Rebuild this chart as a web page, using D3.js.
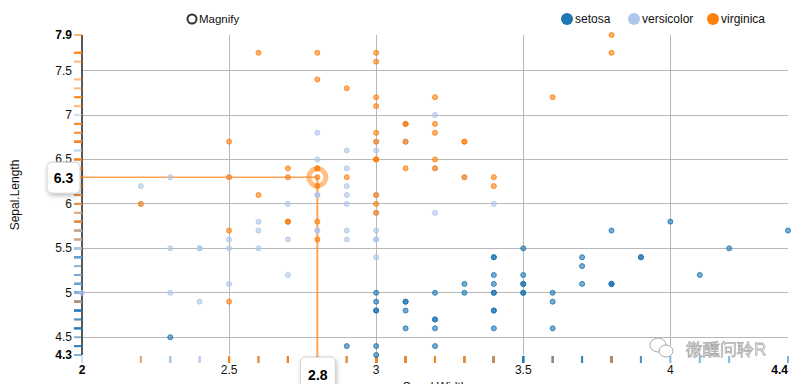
<!DOCTYPE html>
<html>
<head>
<meta charset="utf-8">
<script src="https://cdn.jsdelivr.net/npm/d3@7"></script>
<style>
body { margin: 0; background: #fff; }
text { font-family: "Liberation Sans", Arial, sans-serif; }
</style>
</head>
<body>
<script>
// iris: Sepal.Width / Sepal.Length, 50 rows per species
var species = ["setosa", "versicolor", "virginica"];
var colors = ["#1f77b4", "#aec7e8", "#ff7f0e"];

var setosaWidth = [3.5,3.0,3.2,3.1,3.6,3.9,3.4,3.4,2.9,3.1,3.7,3.4,3.0,3.0,4.0,4.4,3.9,3.5,3.8,3.8,3.4,3.7,3.6,3.3,3.4,3.0,3.4,3.5,3.4,3.2,3.1,3.4,4.1,4.2,3.1,3.2,3.5,3.6,3.0,3.4,3.5,2.3,3.2,3.5,3.8,3.0,3.8,3.2,3.7,3.3];
var setosaLength = [5.1,4.9,4.7,4.6,5.0,5.4,4.6,5.0,4.4,4.9,5.4,4.8,4.8,4.3,5.8,5.7,5.4,5.1,5.7,5.1,5.4,5.1,4.6,5.1,4.8,5.0,5.0,5.2,5.2,4.7,4.8,5.4,5.2,5.5,4.9,5.0,5.5,4.9,4.4,5.1,5.0,4.5,4.4,5.0,5.1,4.8,5.1,4.6,5.3,5.0];
var versicolorWidth = [3.2,3.2,3.1,2.3,2.8,2.8,3.3,2.4,2.9,2.7,2.0,3.0,2.2,2.9,2.9,3.1,3.0,2.7,2.2,2.5,3.2,2.8,2.5,2.8,2.9,3.0,2.8,3.0,2.9,2.6,2.4,2.4,2.7,2.7,3.0,3.4,3.1,2.3,3.0,2.5,2.6,3.0,2.6,2.3,2.7,3.0,2.9,2.9,2.5,2.8];
var versicolorLength = [7.0,6.4,6.9,5.5,6.5,5.7,6.3,4.9,6.6,5.2,5.0,5.9,6.0,6.1,5.6,6.7,5.6,5.8,6.2,5.6,5.9,6.1,6.3,6.1,6.4,6.6,6.8,6.7,6.0,5.7,5.5,5.5,5.8,6.0,5.4,6.0,6.7,6.3,5.6,5.5,5.5,6.1,5.8,5.0,5.6,5.7,5.7,6.2,5.1,5.7];
var virginicaWidth = [3.3,2.7,3.0,2.9,3.0,3.0,2.5,2.9,2.5,3.6,3.2,2.7,3.0,2.5,2.8,3.2,3.0,3.8,2.6,2.2,3.2,2.8,2.8,2.7,3.3,3.2,2.8,3.0,2.8,3.0,2.8,3.8,2.8,2.8,2.6,3.0,3.4,3.1,3.0,3.1,3.1,3.1,2.7,3.2,3.3,3.0,2.5,3.0,3.4,3.0];
var virginicaLength = [6.3,5.8,7.1,6.3,6.5,7.6,4.9,7.3,6.7,7.2,6.5,6.4,6.8,5.7,5.8,6.4,6.5,7.7,7.7,6.0,6.9,5.6,7.7,6.3,6.7,7.2,6.2,6.1,6.4,7.2,7.4,7.9,6.4,6.3,6.1,7.7,6.3,6.4,6.0,6.9,6.7,6.9,5.8,6.8,6.7,6.7,6.3,6.5,6.2,5.9];

var xTicks = [2.5, 3, 3.5, 4];
var yTicks = [4.5, 5, 5.5, 6, 6.5, 7, 7.5];
var xExtent = [2, 4.4];
var yExtent = [4.3, 7.9];
var hover = {width: 2.8, length: 6.3, species: "virginica"};

var widths = [setosaWidth, versicolorWidth, virginicaWidth];
var lengths = [setosaLength, versicolorLength, virginicaLength];
var data = [];
species.forEach(function(s, i) {
  widths[i].forEach(function(w, j) {
    data.push({species: s, width: w, length: lengths[i][j], color: colors[i]});
  });
});

var W = 798, H = 384;
var svg = d3.select("body").append("svg").attr("width", W).attr("height", H);

var defs = svg.append("defs");
var f = defs.append("filter").attr("id", "shadow").attr("x", "-30%").attr("y", "-30%").attr("width", "160%").attr("height", "160%");
f.append("feDropShadow").attr("dx", 1).attr("dy", 2).attr("stdDeviation", 2).attr("flood-color", "#000").attr("flood-opacity", 0.25);

var x = d3.scaleLinear().domain(xExtent).range([82, 788]);
var y = d3.scaleLinear().domain(yExtent).range([355, 35]);

// grid
svg.append("g").selectAll("line").data(yTicks).enter().append("line")
   .attr("x1", x(xExtent[0])).attr("x2", x(xExtent[1]))
   .attr("y1", function(d){return y(d);}).attr("y2", function(d){return y(d);})
   .attr("stroke", "#b8b8b8").attr("stroke-width", 1).attr("shape-rendering", "crispEdges");
svg.append("g").selectAll("line").data(xTicks).enter().append("line")
   .attr("x1", function(d){return x(d);}).attr("x2", function(d){return x(d);})
   .attr("y1", y(yExtent[1])).attr("y2", y(yExtent[0]))
   .attr("stroke", "#b8b8b8").attr("stroke-width", 1).attr("shape-rendering", "crispEdges");

// y axis line
svg.append("line").attr("x1", x(xExtent[0])).attr("x2", x(xExtent[0]))
   .attr("y1", y(yExtent[1])).attr("y2", y(yExtent[0]))
   .attr("stroke", "#222").attr("stroke-width", 1.5);

// rugs
svg.append("g").selectAll("line").data(data).enter().append("line")
   .attr("x1", x(xExtent[0]) - 8).attr("x2", x(xExtent[0]))
   .attr("y1", function(d){return y(d.length);}).attr("y2", function(d){return y(d.length);})
   .attr("stroke", function(d){return d.color;}).attr("stroke-width", 2).attr("opacity", 0.55);
svg.append("g").selectAll("line").data(data).enter().append("line")
   .attr("x1", function(d){return x(d.width);}).attr("x2", function(d){return x(d.width);})
   .attr("y1", y(yExtent[0]) + 1).attr("y2", y(yExtent[0]) + 8)
   .attr("stroke", function(d){return d.color;}).attr("stroke-width", 2).attr("opacity", 0.55);

// drop lines for the hovered point
var hc = colors[species.indexOf(hover.species)];
svg.append("line").attr("x1", x(xExtent[0])).attr("x2", x(hover.width))
   .attr("y1", y(hover.length)).attr("y2", y(hover.length))
   .attr("stroke", hc).attr("stroke-width", 1.5).attr("opacity", 0.7);
svg.append("line").attr("x1", x(hover.width)).attr("x2", x(hover.width))
   .attr("y1", y(hover.length)).attr("y2", y(yExtent[0]) + 2)
   .attr("stroke", hc).attr("stroke-width", 2).attr("opacity", 0.7);

// points
svg.append("g").selectAll("circle").data(data).enter().append("circle")
   .attr("cx", function(d){return x(d.width);})
   .attr("cy", function(d){return y(d.length);})
   .attr("r", 2.5)
   .attr("fill", function(d){return d.color;}).attr("fill-opacity", 0.6)
   .attr("stroke", function(d){return d.color;}).attr("stroke-opacity", 0.85).attr("stroke-width", 1);

// hover ring
svg.append("circle").attr("cx", x(hover.width)).attr("cy", y(hover.length)).attr("r", 8.5)
   .attr("fill", "none").attr("stroke", hc).attr("stroke-width", 5).attr("opacity", 0.5);

// y tick labels
svg.append("g").selectAll("text").data(yTicks).enter().append("text")
   .attr("x", 72).attr("y", function(d){return y(d) + 4;})
   .attr("text-anchor", "end").attr("font-size", 12).attr("fill", "#111")
   .text(function(d){return d;});
svg.append("g").selectAll("text").data(yExtent).enter().append("text")
   .attr("x", 72).attr("y", function(d){return y(d) + 4;})
   .attr("text-anchor", "end").attr("font-size", 12).attr("font-weight", "bold").attr("fill", "#000")
   .text(function(d){return d;});

// x tick labels
svg.append("g").selectAll("text").data(xTicks).enter().append("text")
   .attr("x", function(d){return x(d);}).attr("y", 374)
   .attr("text-anchor", "middle").attr("font-size", 12).attr("fill", "#111")
   .text(function(d){return d;});
svg.append("g").selectAll("text").data(xExtent).enter().append("text")
   .attr("x", function(d){return x(d);}).attr("y", 374)
   .attr("text-anchor", function(d, i){return i ? "end" : "middle";})
   .attr("font-size", 12).attr("font-weight", "bold").attr("fill", "#000")
   .text(function(d){return d;});

// axis titles
svg.append("text").attr("transform", "translate(19,195) rotate(-90)")
   .attr("text-anchor", "middle").attr("font-size", 12).attr("fill", "#111").text("Sepal.Length");
svg.append("text").attr("x", 435).attr("y", 391)
   .attr("text-anchor", "middle").attr("font-size", 12).attr("fill", "#111").text("Sepal.Width");

// tooltips
var ty = svg.append("g").attr("transform", "translate(47," + (y(hover.length) - 15) + ")");
ty.append("rect").attr("width", 33).attr("height", 31).attr("rx", 5)
  .attr("fill", "#fff").attr("stroke", "#d0d0d0").attr("filter", "url(#shadow)");
ty.append("text").attr("x", 16.5).attr("y", 20.5).attr("text-anchor", "middle")
  .attr("font-family", "Liberation Serif, serif").attr("font-weight", "bold").attr("font-size", 14)
  .attr("fill", "#000").text(hover.length);
var tx = svg.append("g").attr("transform", "translate(" + (x(hover.width) - 17) + ",357)");
tx.append("rect").attr("width", 35).attr("height", 36).attr("rx", 5)
  .attr("fill", "#fff").attr("stroke", "#d0d0d0").attr("filter", "url(#shadow)");
tx.append("text").attr("x", 17.5).attr("y", 23).attr("text-anchor", "middle")
  .attr("font-family", "Liberation Serif, serif").attr("font-weight", "bold").attr("font-size", 14)
  .attr("fill", "#000").text(hover.width);

// legends
var mag = svg.append("g").attr("transform", "translate(192,19)");
mag.append("circle").attr("r", 4.5).attr("fill", "#fff").attr("stroke", "#333").attr("stroke-width", 2);
mag.append("text").attr("x", 7).attr("y", 4).attr("font-size", 11.5).attr("fill", "#111").text("Magnify");

var legX = [567, 634, 713];
var leg = svg.append("g").selectAll("g").data(species).enter().append("g")
   .attr("transform", function(d, i){return "translate(" + legX[i] + ",19)";});
leg.append("circle").attr("r", 6).attr("fill", function(d, i){return colors[i];});
leg.append("text").attr("x", 8).attr("y", 4).attr("font-size", 12).attr("fill", "#111")
   .text(function(d){return d;});

// watermark
svg.append("text").attr("x", 686).attr("y", 355).attr("font-size", 17)
   .attr("font-family", "Noto Sans CJK SC, sans-serif").attr("fill", "#fff")
   .attr("stroke", "#999").attr("stroke-width", 0.8).attr("opacity", 0.8).text("微醺问聆R");
var wc = svg.append("g").attr("transform", "translate(661,348)").attr("fill", "#fff").attr("stroke", "#aaa");
wc.append("ellipse").attr("rx", 8).attr("ry", 7).attr("cx", -3).attr("cy", -3);
wc.append("ellipse").attr("rx", 7).attr("ry", 6).attr("cx", 5).attr("cy", 3);
</script>
</body>
</html>
